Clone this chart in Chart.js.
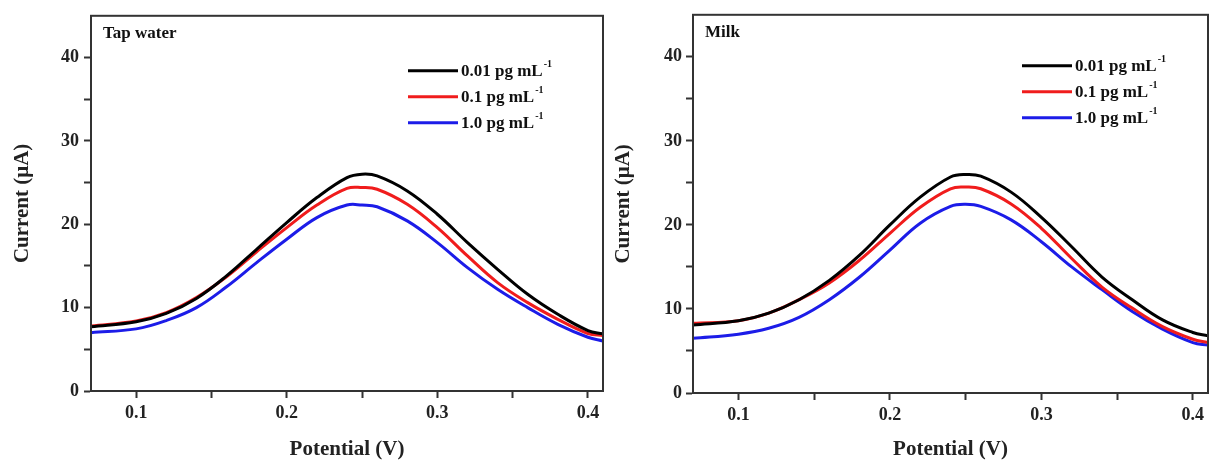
<!DOCTYPE html>
<html>
<head>
<meta charset="utf-8">
<script src="https://cdn.jsdelivr.net/npm/chart.js@4/dist/chart.umd.min.js"></script>
<style>
  body { margin: 0; background: #fff; width: 1210px; height: 463px; overflow: hidden; position: relative; }
  canvas { position: absolute; top: 0; }
  #tapChart { left: 0; }
  #milkChart { left: 610px; }
</style>
</head>
<body>
<canvas id="tapChart" width="610" height="463"></canvas>
<canvas id="milkChart" width="600" height="463"></canvas>
<script>
var potentials = [0.07, 0.10, 0.12, 0.14, 0.16, 0.18, 0.20, 0.22, 0.24, 0.25, 0.26, 0.28, 0.30, 0.32, 0.34, 0.36, 0.38, 0.40, 0.41];

// tap water, current (uA)
var tapBlack = [7.7, 8.3, 9.3, 11.1, 13.8, 17.0, 20.2, 23.2, 25.6, 26.0, 25.8, 24.0, 21.2, 17.8, 14.6, 11.6, 9.2, 7.25, 6.85];
var tapRed   = [7.8, 8.4, 9.4, 11.2, 13.7, 16.7, 19.6, 22.3, 24.3, 24.4, 24.2, 22.4, 19.6, 16.2, 13.0, 10.6, 8.6, 6.9, 6.65];
var tapBlue  = [7.0, 7.45, 8.45, 10.0, 12.5, 15.4, 18.2, 20.8, 22.3, 22.3, 22.1, 20.4, 17.8, 14.8, 12.2, 10.0, 8.0, 6.45, 6.0];

// milk, current (uA)
var milkBlack = [8.1, 8.6, 9.5, 11.1, 13.4, 16.4, 20.0, 23.3, 25.7, 26.0, 25.8, 23.9, 20.9, 17.4, 13.8, 11.1, 8.7, 7.2, 6.8];
var milkRed   = [8.3, 8.6, 9.5, 11.1, 13.1, 15.8, 19.0, 22.1, 24.3, 24.5, 24.3, 22.5, 19.6, 16.0, 12.6, 10.1, 7.9, 6.4, 6.0];
var milkBlue  = [6.5, 7.0, 7.7, 9.0, 11.1, 13.8, 17.0, 20.2, 22.2, 22.45, 22.2, 20.6, 18.0, 15.0, 12.3, 9.7, 7.6, 6.0, 5.7];

var seriesLabels = ['0.01 pg mL', '0.1 pg mL', '1.0 pg mL'];
var seriesColors = ['#000000', '#f01c1c', '#1c1ce8'];

// ticks: every value gets a tick mark, only the major ones get a label
var xTicks = [0.10, 0.15, 0.20, 0.25, 0.30, 0.35, 0.40];
var xLabeled = [0.1, 0.2, 0.3, 0.4];
var yTicks = [0, 5, 10, 15, 20, 25, 30, 35, 40];
var yLabeled = [0, 10, 20, 30, 40];

var serif = '"Times New Roman", "Liberation Serif", serif';
var axisColor = '#333';

function toPoints(ys) {
    return potentials.map(function (x, i) { return { x: x, y: ys[i] }; });
}

function isLabeled(list, v) {
    return list.some(function (l) { return Math.abs(l - v) < 1e-6; });
}

// frame round the plot, panel name and the legend with superscripts
var panelPlugin = {
    id: 'panel',
    afterDraw: function (chart, args, opts) {
        var ctx = chart.ctx;
        var a = chart.chartArea;
        ctx.save();
        ctx.strokeStyle = axisColor;
        ctx.lineWidth = 2;
        ctx.strokeRect(a.left, a.top, a.right - a.left, a.bottom - a.top);

        ctx.fillStyle = '#111';
        ctx.font = 'bold 17px ' + serif;
        ctx.textBaseline = 'middle';
        ctx.textAlign = 'left';
        ctx.fillText(opts.name, a.left + 12, a.top + 18);

        chart.data.datasets.forEach(function (ds, i) {
            var y = a.top + opts.legendY + i * 26;
            var x = a.left + opts.legendX;
            ctx.strokeStyle = ds.borderColor;
            ctx.lineWidth = 3;
            ctx.beginPath();
            ctx.moveTo(x, y);
            ctx.lineTo(x + 50, y);
            ctx.stroke();
            ctx.fillStyle = '#111';
            ctx.font = 'bold 17px ' + serif;
            ctx.fillText(ds.label, x + 53, y + 1);
            var w = ctx.measureText(ds.label).width;
            ctx.font = 'bold 10px ' + serif;
            ctx.fillText('-1', x + 54 + w, y - 6);
        });
        ctx.restore();
    }
};

function makeChart(id, name, black, red, blue, lay) {
    var values = [black, red, blue];
    new Chart(document.getElementById(id), {
        type: 'line',
        data: {
            datasets: values.map(function (v, i) {
                return {
                    label: seriesLabels[i],
                    data: toPoints(v),
                    borderColor: seriesColors[i],
                    borderWidth: 3,
                    pointRadius: 0,
                    fill: false,
                    tension: 0.4
                };
            })
        },
        options: {
            responsive: false,
            animation: false,
            devicePixelRatio: 1,
            layout: { padding: { top: 14, right: lay.right, left: 0, bottom: 0 } },
            plugins: {
                legend: { display: false },
                tooltip: { enabled: false },
                panel: { name: name, legendX: lay.legendX, legendY: lay.legendY }
            },
            scales: {
                x: {
                    type: 'linear',
                    min: 0.07,
                    max: 0.41,
                    afterBuildTicks: function (s) { s.ticks = xTicks.map(function (v) { return { value: v }; }); },
                    afterFit: function (s) { s.height = lay.xHeight; },
                    ticks: {
                        autoSkip: false,
                        maxRotation: 0,
                        padding: 5,
                        color: '#222',
                        font: { family: serif, size: 18, weight: 'bold' },
                        callback: function (v) { return isLabeled(xLabeled, v) ? v.toFixed(1) : ''; }
                    },
                    grid: { drawOnChartArea: false, tickLength: 7, tickColor: axisColor, tickWidth: 2 },
                    border: { color: axisColor, width: 2 },
                    title: {
                        display: true,
                        text: 'Potential (V)',
                        color: '#222',
                        font: { family: serif, size: 21, weight: 'bold' },
                        padding: { top: 0, bottom: 1 }
                    }
                },
                y: {
                    min: 0,
                    max: 45,
                    afterBuildTicks: function (s) { s.ticks = yTicks.map(function (v) { return { value: v }; }); },
                    afterFit: function (s) { s.width = lay.yWidth; },
                    ticks: {
                        autoSkip: false,
                        padding: lay.yPad,
                        color: '#222',
                        font: { family: serif, size: 18, weight: 'bold' },
                        callback: function (v) { return isLabeled(yLabeled, v) ? v : ''; }
                    },
                    grid: { drawOnChartArea: false, tickLength: 7, tickColor: axisColor, tickWidth: 2 },
                    border: { color: axisColor, width: 2 },
                    title: {
                        display: true,
                        text: 'Current (\u03bcA)',
                        color: '#222',
                        font: { family: serif, size: 21, weight: 'bold' },
                        padding: { top: lay.titleTop, bottom: 0 }
                    }
                }
            }
        },
        plugins: [panelPlugin]
    });
}

makeChart('tapChart', 'Tap water', tapBlack, tapRed, tapBlue,
    { right: 7, xHeight: 72, yWidth: 91, yPad: 5, titleTop: 10, legendX: 317, legendY: 55 });
makeChart('milkChart', 'Milk', milkBlack, milkRed, milkBlue,
    { right: 2, xHeight: 70, yWidth: 83, yPad: 4, titleTop: 1, legendX: 329, legendY: 51 });
</script>
</body>
</html>
